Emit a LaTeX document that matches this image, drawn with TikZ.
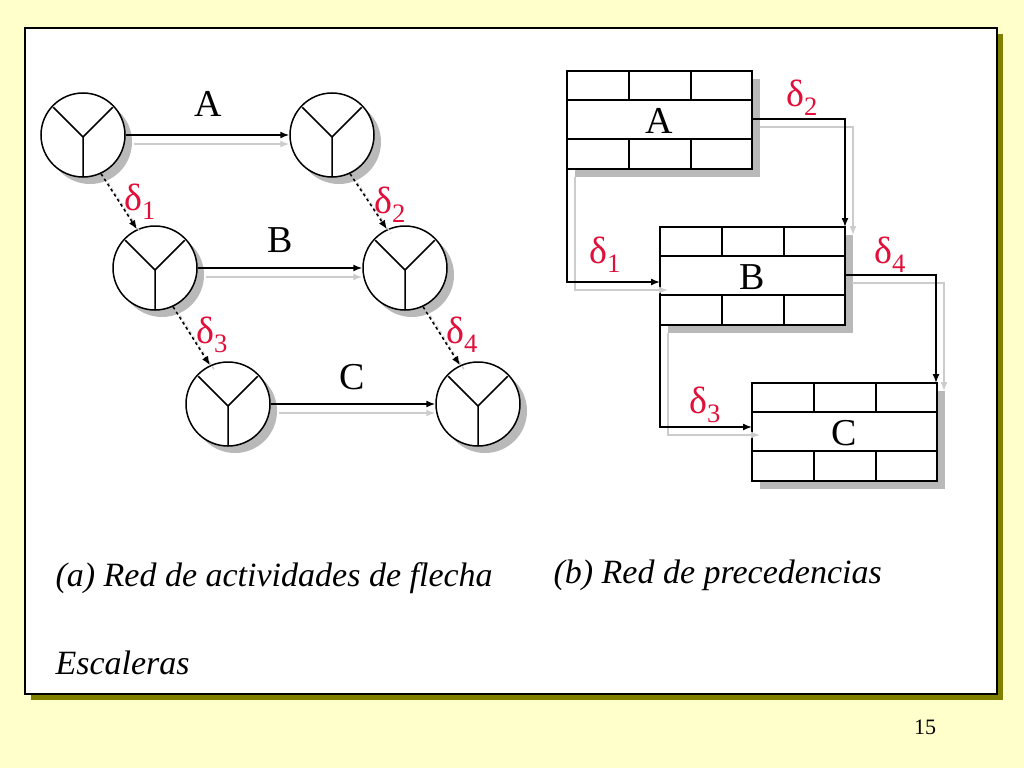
\documentclass[tikz,border=0pt]{standalone}
\usepackage{fontspec}
\setmainfont{Liberation Serif}
\begin{document}
\begin{tikzpicture}[x=1pt,y=-1pt,
  dl/.style={text=dred,font=\fontsize{38}{38}\selectfont,anchor=center},
  lab/.style={font=\fontsize{38}{38}\selectfont,anchor=center},
  captxt/.style={font=\fontsize{34}{34}\selectfont\itshape,anchor=west},
  ev/.style={circle,draw,line width=1.5pt,fill=white,minimum size=84pt,inner sep=0pt},
  conn/.style={line width=1.5pt,-{Latex[length=9pt,width=7pt]}},
  shad/.style={line width=1.5pt,gray!40}]
\usetikzlibrary{arrows.meta}
\definecolor{bgy}{HTML}{FFFFCC}
\definecolor{dred}{HTML}{E0103A}
\definecolor{olv}{HTML}{808000}
\fill[bgy] (0,0) rectangle (1024,768);
\useasboundingbox (0,0) rectangle (1024,768);
\fill[olv] (31,34) rectangle (1003,700);
\draw[fill=white,line width=1.2pt] (25,28) rectangle (997,694);
% event circles
\foreach \n/\x/\y in {e1/83/135,e2/332/135,e3/155/268,e4/405/268,e5/228/404,e6/478/404}{
  \fill[gray!55] (\x+7,\y+7) circle (42);
  \node[ev] (\n) at (\x,\y) {};
  \draw[line width=1.5pt] (\x,\y+2) -- ++(-135:42) (\x,\y+2) -- ++(-45:42) (\x,\y+2) -- (\x,\y+42);
}
% horizontal arrows with shadows
\foreach \a/\b in {e1/e2,e3/e4,e5/e6}{
  \draw[shad,-{Latex[length=9pt,width=7pt]}] ([yshift=-9pt]\a.east) ++(8,0) -- ([yshift=-9pt]\b.west);
  \draw[conn] (\a.east) -- (\b.west);
}
\foreach \a/\b in {e1/e3,e2/e4,e3/e5,e4/e6}{
  \draw[gray!40,line width=1.5pt,dashed] ([shift={(4,4)}]\a.-65) -- ([shift={(4,4)}]\b.115);
  \draw[line width=1.5pt,dashed,-{Latex[length=9pt,width=7pt]}] (\a.-65) -- (\b.115);
}
\node[lab] (la) at (208,104) {A};
\node[lab] (lb) at (280,240) {B};
\node[lab] (lc) at (352,377) {C};
\node[dl] (d1) at (140,202) {δ\textsubscript{1}};
\node[dl] (d2) at (390,205) {δ\textsubscript{2}};
\node[dl] (d3) at (212,335) {δ\textsubscript{3}};
\node[dl] (d4) at (462,335) {δ\textsubscript{4}};
% precedence boxes
\foreach \n/\x/\y/\t in {A/567/71/A,B/660/227/B,C/752/383/C}{
  \fill[gray!55] (\x+8,\y+8) rectangle (\x+193,\y+106);
  \draw[fill=white,line width=1.5pt] (\x,\y) rectangle (\x+185,\y+98);
  \draw[line width=1.5pt] (\x,\y+29) -- (\x+185,\y+29) (\x,\y+68) -- (\x+185,\y+68)
    (\x+62,\y) -- (\x+62,\y+29) (\x+124,\y) -- (\x+124,\y+29)
    (\x+62,\y+68) -- (\x+62,\y+98) (\x+124,\y+68) -- (\x+124,\y+98);
  \node[lab] (b\n) at (\x+92.5,\y+50) {\t};
  \coordinate (b\n nw) at (\x,\y); \coordinate (b\n se) at (\x+185,\y+98);
}
% shadows of connectors
\draw[shad,-{Latex[length=9pt,width=7pt]}] (760,127) -- (853,127) -- (853,235);
\draw[shad,-{Latex[length=9pt,width=7pt]}] (575,177) -- (575,290) -- (668,290);
\draw[shad,-{Latex[length=9pt,width=7pt]}] (852,283) -- (944,283) -- (944,391);
\draw[shad,-{Latex[length=9pt,width=7pt]}] (668,333) -- (668,435) -- (760,435);
\draw[conn] (752,119) -| (845,227);
\draw[conn] (bAnw |- bAse) -- (567,282) -- (660,282);
\draw[conn] (844,275) -| (936,383);
\draw[conn] (bBnw |- bBse) -- (660,427) -- (752,427);
\node[dl] (p2) at (802,98) {δ\textsubscript{2}};
\node[dl] (p1) at (605,255) {δ\textsubscript{1}};
\node[dl] (p4) at (890,255) {δ\textsubscript{4}};
\node[dl] (p3) at (705,405) {δ\textsubscript{3}};
\node[captxt] (ca) at (52,578) {(a) Red de actividades de flecha};
\node[captxt] (cb) at (550,575) {(b) Red de precedencias};
\node[captxt] (ce) at (52,663) {Escaleras};
\node[font=\fontsize{22}{22}\selectfont] (pg) at (925,727) {15};
\end{tikzpicture}
\end{document}
